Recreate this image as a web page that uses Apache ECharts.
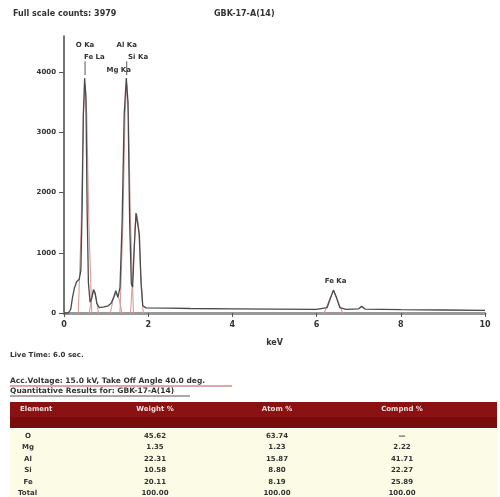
<!DOCTYPE html>
<html><head><meta charset="utf-8">
<script src="https://cdn.jsdelivr.net/npm/echarts@6/dist/echarts.min.js"></script>
<style>html,body{margin:0;padding:0;background:#fff}#c{width:500px;height:497px}</style>
</head><body><div id="c"></div>
<script>
// keV ticks and count ticks
const xTicks = [0, 2, 4, 6, 8, 10];
const yTicks = [0, 1000, 2000, 3000, 4000];
// measured spectrum [keV, counts]
const spectrum = [[0,0],[0.1,0],[0.16,60],[0.2,250],[0.25,420],[0.3,520],[0.36,560],[0.4,700],[0.43,1700],[0.46,3300],[0.49,3900],[0.52,3600],[0.55,1700],[0.58,500],[0.62,180],[0.66,250],[0.7,390],[0.74,330],[0.78,160],[0.84,90],[0.95,100],[1.05,120],[1.12,160],[1.18,260],[1.23,370],[1.28,260],[1.33,420],[1.38,1500],[1.43,3300],[1.48,3900],[1.52,3500],[1.56,1500],[1.6,480],[1.63,430],[1.67,1100],[1.71,1660],[1.75,1680],[1.79,1300],[1.83,500],[1.87,120],[1.95,85],[2.5,80],[3,75],[4,70],[5,65],[6,60],[6.25,90],[6.33,250],[6.4,380],[6.47,260],[6.55,90],[6.7,60],[7.0,70],[7.07,110],[7.15,65],[8,55],[9,50],[10,45]];
// fitted peak profiles [keV, counts]
const fitO = [[0.34,0],[0.41,1500],[0.46,3300],[0.5,3800],[0.54,3300],[0.59,1500],[0.66,0]];
const fitFeL = [[0.6,0],[0.66,260],[0.71,370],[0.76,260],[0.82,0]];
const fitMg = [[1.1,0],[1.17,230],[1.24,340],[1.31,230],[1.38,0]];
const fitAl = [[1.33,0],[1.4,1500],[1.45,3300],[1.49,3800],[1.53,3300],[1.58,1500],[1.65,0]];
const fitSi = [[1.58,0],[1.64,700],[1.69,1450],[1.73,1640],[1.77,1450],[1.82,700],[1.88,0]];
const fitFe = [[6.18,0],[6.3,210],[6.4,370],[6.5,210],[6.62,0]];
// peak labels [text, keV, counts level of label]
const peakLabels = [["O Ka",0.5,4450],["Fe La",0.72,4250],["Al Ka",1.49,4450],["Si Ka",1.76,4250],["Mg Ka",1.3,4030],["Fe Ka",6.45,520]];
// header texts
const titleLeft = "Full scale counts: 3979";
const titleRight = "GBK-17-A(14)";
const liveTime = "Live Time: 6.0 sec.";
const accLine = "Acc.Voltage: 15.0 kV, Take Off Angle 40.0 deg.";
const quantLine = "Quantitative Results for: GBK-17-A(14)";
// table
const tableHeader = ["Element", "Weight %", "Atom %", "Compnd %"];
const elements = ["O", "Mg", "Al", "Si", "Fe", "Total"];
const weightPct = ["45.62", "1.35", "22.31", "10.58", "20.11", "100.00"];
const atomPct = ["63.74", "1.23", "15.87", "8.80", "8.19", "100.00"];
const compndPct = ["\u2014", "2.22", "41.71", "22.27", "25.89", "100.00"];

const chart = echarts.init(document.getElementById('c'));
const fitStyle = {type:'line', showSymbol:false, symbol:'none', silent:true, z:1, lineStyle:{color:'#d69c9c', width:1.1}};
const fits = [fitO, fitFeL, fitMg, fitAl, fitSi, fitFe].map(d => Object.assign({data:d}, fitStyle));
chart.setOption({
  animation:false,
  grid:{left:64, right:15, top:36, bottom:184},
  xAxis:{type:'value', min:0, max:10, interval:2,
    name:'keV', nameLocation:'middle', nameGap:26,
    nameTextStyle:{fontFamily:'DejaVu Sans', fontWeight:'bold', fontSize:8, color:'#333'},
    axisLine:{show:true, lineStyle:{color:'#999', width:3}},
    axisTick:{show:true, length:4, lineStyle:{color:'#555', width:1}},
    axisLabel:{fontFamily:'DejaVu Sans', fontWeight:'bold', fontSize:8, color:'#333', margin:8,
      formatter:v => xTicks.includes(v) ? String(v) : ''},
    splitLine:{show:false}},
  yAxis:{type:'value', min:0, max:4600, interval:1000,
    axisLine:{show:true, lineStyle:{color:'#444', width:1.5}},
    axisTick:{show:true, length:5, lineStyle:{color:'#555'}},
    axisLabel:{fontFamily:'DejaVu Sans', fontWeight:'bold', fontSize:7, color:'#333', margin:8, showMaxLabel:false,
      formatter:v => yTicks.includes(v) ? String(v) : ''},
    splitLine:{show:false}},
  series:[...fits, {type:'line', data:spectrum, showSymbol:false, symbol:'none', z:3,
    lineStyle:{color:'#4a4a4a', width:1.3}}]
});

function px(k, c){ return chart.convertToPixel({gridIndex:0}, [k, c]); }
const g = [];
const tf = {fontFamily:'DejaVu Sans', fontWeight:'bold', fill:'#333'};
g.push({type:'text', left:13, top:10, style:Object.assign({text:titleLeft, fontSize:8}, tf)});
g.push({type:'text', left:214, top:10, style:Object.assign({text:titleRight, fontSize:8}, tf)});
peakLabels.forEach(p => {
  const [x, y] = px(p[1], p[2]);
  g.push({type:'text', x:x, y:y, style:Object.assign({text:p[0], fontSize:7, align:'center', verticalAlign:'middle'}, tf)});
});
// indicator lines for O and Al
[[0.5],[1.49]].forEach(p => {
  const a = px(p[0], 3950), b = px(p[0], 4180);
  g.push({type:'line', shape:{x1:a[0], y1:a[1], x2:b[0], y2:b[1]}, style:{stroke:'#555', lineWidth:1}});
});
g.push({type:'text', left:10, top:352, style:Object.assign({text:liveTime, fontSize:7}, tf)});
g.push({type:'text', left:10, top:377, style:Object.assign({text:accLine, fontSize:7.5}, tf)});
g.push({type:'line', shape:{x1:10, y1:386, x2:232, y2:386}, style:{stroke:'#c05050', lineWidth:1}});
g.push({type:'text', left:10, top:387, style:Object.assign({text:quantLine, fontSize:7.5}, tf)});
g.push({type:'line', shape:{x1:10, y1:396, x2:190, y2:396}, style:{stroke:'#555', lineWidth:1}});
// table
g.push({type:'rect', shape:{x:10, y:402, width:487, height:26}, style:{fill:'#8b1212'}});
g.push({type:'rect', shape:{x:10, y:417, width:487, height:11}, style:{fill:'#7a0c0c'}});
g.push({type:'rect', shape:{x:10, y:429, width:487, height:68}, style:{fill:'#fcfce6'}});
const colX = [28, 155, 277, 402];
tableHeader.forEach((h, i) => {
  g.push({type:'text', x: i===0 ? 20 : colX[i], y:409, style:{text:h, fontFamily:'DejaVu Sans', fontWeight:'bold', fontSize:7, fill:'#f3dede', align: i===0 ? 'left' : 'center', verticalAlign:'middle'}});
});
const rowY = [436, 447, 459, 470, 482, 493];
const cols = [elements, weightPct, atomPct, compndPct];
cols.forEach((col, ci) => col.forEach((v, ri) => {
  g.push({type:'text', x: (ci===0 && ri===5) ? 18 : colX[ci], y:rowY[ri], style:{text:v, fontFamily:'DejaVu Sans', fontWeight:'bold', fontSize:7, fill:'#333', align:(ci===0 && ri===5) ? 'left' : 'center', verticalAlign:'middle'}});
}));
chart.setOption({graphic:g});
</script></body></html>
